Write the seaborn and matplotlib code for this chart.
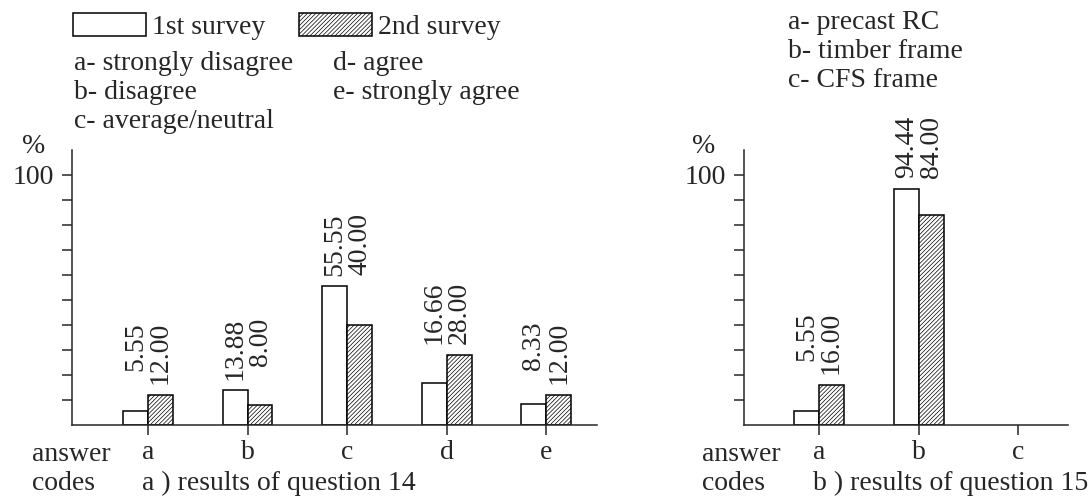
"""Survey results for questions 14 and 15, two grouped bar panels."""

import matplotlib

matplotlib.use("Agg")
import matplotlib.pyplot as plt
import matplotlib.patches as mpatches
import pandas as pd
import seaborn as sns

# question 14
q14_codes = ["a", "b", "c", "d", "e"]
q14_first = [5.55, 13.88, 55.55, 16.66, 8.33]
q14_second = [12.00, 8.00, 40.00, 28.00, 12.00]

# question 15 (nobody answered "c")
q15_codes = ["a", "b", "c"]
q15_first = [5.55, 94.44, 0.0]
q15_second = [16.00, 84.00, 0.0]

surveys = ["1st survey", "2nd survey"]
q14_notes = [["a- strongly disagree", "b- disagree", "c- average/neutral"],
             ["d- agree", "e- strongly agree"]]
q15_notes = ["a- precast RC", "b- timber frame", "c- CFS frame"]

W, H = 1090, 503
FS = 20
HATCH = "////////"

sns.set_style("ticks")
plt.rcParams["font.family"] = ["Liberation Serif", "DejaVu Serif"]
plt.rcParams["hatch.linewidth"] = 0.5
plt.rcParams["axes.linewidth"] = 1.1


def fx(px):
    return px / W


def fy(py):
    return 1 - py / H


def make_df(codes, first, second):
    rows = []
    for code, v1, v2 in zip(codes, first, second):
        if v1 > 0:
            rows.append((code, surveys[0], v1))
        if v2 > 0:
            rows.append((code, surveys[1], v2))
    return pd.DataFrame(rows, columns=["code", "survey", "pct"])


def draw_panel(ax, codes, first, second, xlim):
    df = make_df(codes, first, second)
    sns.barplot(data=df, x="code", y="pct", hue="survey", order=codes,
                hue_order=surveys, palette=["white", "white"], saturation=1,
                edgecolor="black", linewidth=1.1, width=0.5, gap=0,
                errorbar=None, legend=False, ax=ax)
    for bar in ax.containers[1]:
        bar.set_hatch(HATCH)
    for b1, b2 in zip(ax.containers[0], ax.containers[1]):
        top = max(b1.get_height(), b2.get_height())
        for b in (b1, b2):
            ax.annotate(f"{b.get_height():.2f}",
                        xy=(b.get_x() + b.get_width() / 2, top),
                        xytext=(0, 73), textcoords="offset pixels",
                        rotation=90, rotation_mode="anchor",
                        ha="right", va="center", fontsize=FS)
    ax.set_xlim(*xlim)
    ax.set_ylim(0, 110)
    ax.set_yticks(range(10, 101, 10))
    ax.set_yticklabels([""] * 9 + ["100"])
    ax.tick_params(axis="y", length=7, width=1.1, pad=6, labelsize=FS)
    ax.tick_params(axis="x", length=7, width=1.1, pad=4, labelsize=FS)
    ax.set_xlabel("")
    ax.set_ylabel("")
    sns.despine(ax=ax)


fig = plt.figure(figsize=(W / 100, H / 100), dpi=100)
ax1 = fig.add_axes([fx(72), fy(425), fx(597) - fx(72), fy(150) - fy(425)])
ax2 = fig.add_axes([fx(744), fy(425), fx(1068) - fx(744), fy(150) - fy(425)])

draw_panel(ax1, q14_codes, q14_first, q14_second, (-0.764, 4.51))
draw_panel(ax2, q15_codes, q15_first, q15_second, (-0.754, 2.50))

# legend for the two surveys
handles = [mpatches.Patch(facecolor="white", edgecolor="black", linewidth=1.1, label=surveys[0]),
           mpatches.Patch(facecolor="white", edgecolor="black", linewidth=1.1, hatch=HATCH,
                          label=surveys[1])]
fig.legend(handles=handles, loc="upper left", bbox_to_anchor=(fx(73), fy(13)), ncol=2,
           frameon=False, fontsize=FS, handlelength=2.63, handleheight=0.9,
           handletextpad=0.22, columnspacing=1.2, borderpad=0, borderaxespad=0)

# answer code notes
for i, txt in enumerate(q14_notes[0]):
    fig.text(fx(74), fy(70 + 29 * i), txt, fontsize=FS, va="baseline")
for i, txt in enumerate(q14_notes[1]):
    fig.text(fx(333), fy(70 + 29 * i), txt, fontsize=FS, va="baseline")
for i, txt in enumerate(q15_notes):
    fig.text(fx(788), fy(29 + 29 * i), txt, fontsize=FS, va="baseline")

# axis captions
for x0, px_pct, sub, sub_x in [(32, 22, "a ) results of question 14", 142),
                               (702, 692, "b ) results of question 15", 813)]:
    fig.text(fx(px_pct), fy(153), "%", fontsize=FS, va="baseline")
    fig.text(fx(x0), fy(461), "answer", fontsize=FS, va="baseline")
    fig.text(fx(x0), fy(490), "codes", fontsize=FS, va="baseline")
    fig.text(fx(sub_x), fy(490), sub, fontsize=FS, va="baseline")

fig.savefig("out.png", dpi=100)
plt.close(fig)
